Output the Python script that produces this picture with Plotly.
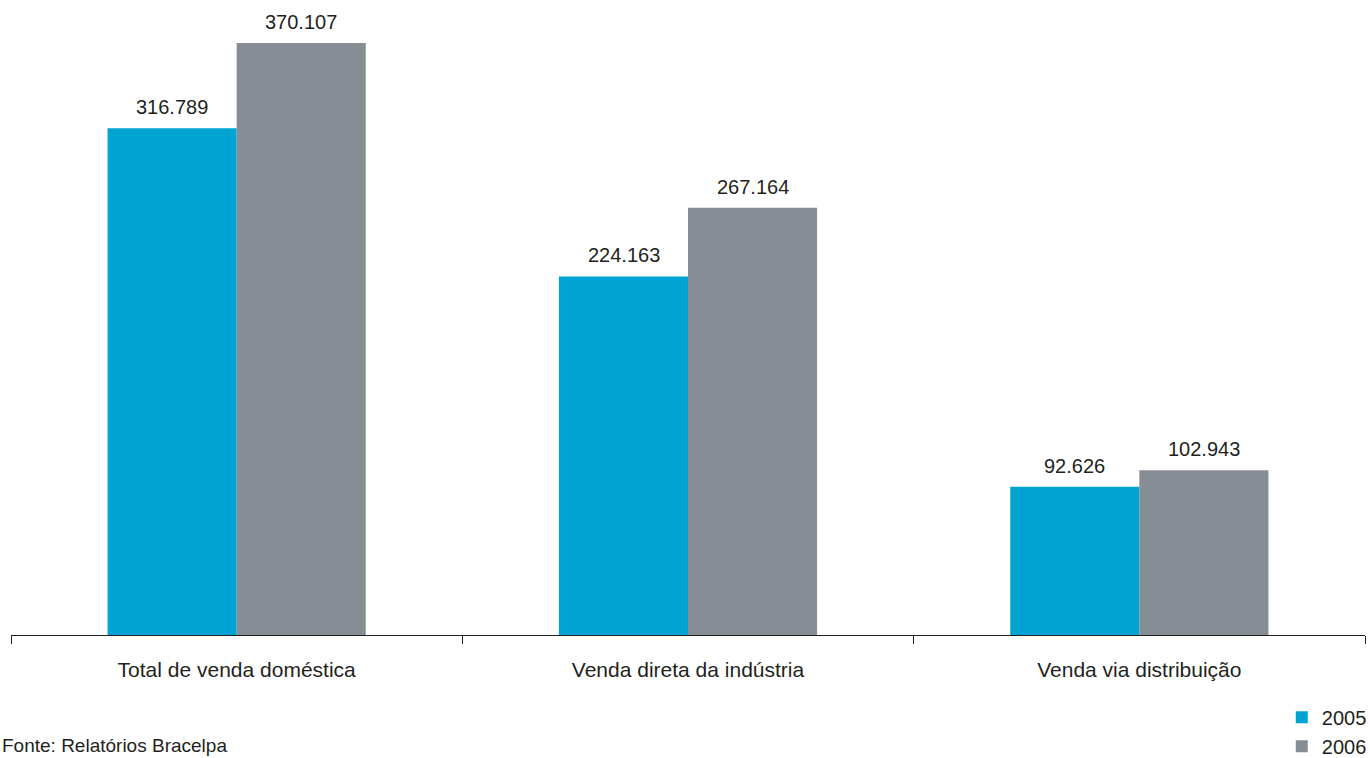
import plotly.graph_objects as go

categories = ["Total de venda doméstica", "Venda direta da indústria", "Venda via distribuição"]
series_names = ["2005", "2006"]
values_2005 = [316.789, 224.163, 92.626]
values_2006 = [370.107, 267.164, 102.943]
colors = ["#00A4D3", "#878D94"]
source_text = "Fonte: Relatórios Bracelpa"

def fmt(v):
    return f"{v:.3f}"

fig = go.Figure()
for name, vals, col in zip(series_names, [values_2005, values_2006], colors):
    fig.add_trace(go.Bar(x=categories, y=vals, name=name, marker=dict(color=col, line=dict(width=0))))

TEXT = "#231F20"
FONT = "Liberation Sans, Arial, sans-serif"

annotations = []
for vals, shift in [(values_2005, -64.5), (values_2006, 64.5)]:
    for c, v in zip(categories, vals):
        annotations.append(dict(x=c, y=v, xref="x", yref="y", text=fmt(v), showarrow=False,
                                xshift=shift, yanchor="bottom", yshift=8,
                                font=dict(size=20, color=TEXT, family=FONT)))
annotations.append(dict(x=0, y=0, xref="paper", yref="paper", text=source_text, showarrow=False,
                        xanchor="left", yanchor="bottom", xshift=-11, yshift=-123,
                        font=dict(size=19, color=TEXT, family=FONT)))

fig.update_layout(
    width=1370, height=758,
    margin=dict(l=11, r=5, t=0, b=123, autoexpand=False),
    paper_bgcolor="white", plot_bgcolor="white",
    barmode="group", bargap=0.428, bargroupgap=0,
    font=dict(family=FONT, size=20, color=TEXT),
    showlegend=True,
    legend=dict(x=1.005, xanchor="right", y=-0.099, yanchor="top", orientation="v",
                font=dict(size=20, color=TEXT, family=FONT), bgcolor="rgba(0,0,0,0)",
                itemwidth=30, tracegroupgap=0),
    annotations=annotations,
    xaxis=dict(showline=True, linecolor="#231F20", linewidth=1, ticks="outside", ticklen=8,
               tickcolor="#231F20", tickson="boundaries", showgrid=False,
               ticklabelstandoff=16,
               tickfont=dict(size=21, color=TEXT, family=FONT)),
    yaxis=dict(range=[0, 397], visible=False, showgrid=False, zeroline=False),
)
fig.write_html("out.html")
